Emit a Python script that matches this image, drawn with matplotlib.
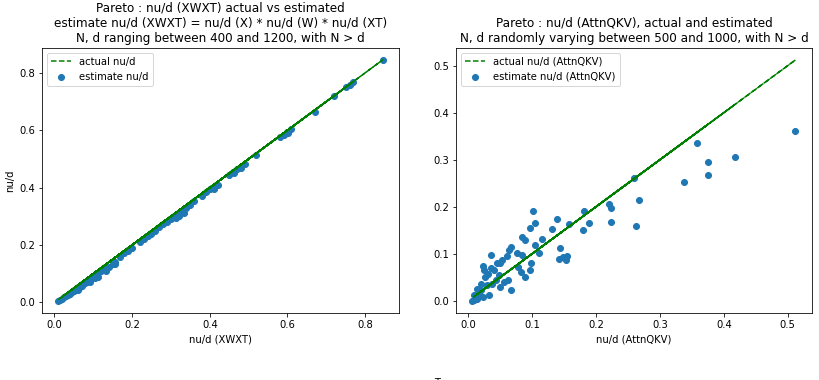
import matplotlib.pyplot as plt

# Left panel: actual vs estimated nu/d (XWXT)
xwxt_actual = [0.010, 0.420, 0.060, 0.770, 0.150, 0.300, 0.020, 0.590, 0.110, 0.250,
               0.845, 0.035, 0.470, 0.180, 0.080, 0.330, 0.670, 0.045, 0.390, 0.120,
               0.280, 0.015, 0.600, 0.095, 0.220, 0.750, 0.055, 0.360, 0.140, 0.490,
               0.025, 0.310, 0.070, 0.720, 0.190, 0.400, 0.040, 0.260, 0.105, 0.580,
               0.030, 0.450, 0.085, 0.340, 0.155, 0.610, 0.050, 0.270, 0.115, 0.520,
               0.065, 0.380, 0.200, 0.760, 0.090, 0.320, 0.130, 0.460, 0.075, 0.240,
               0.100, 0.410, 0.170, 0.290, 0.230, 0.350, 0.480,
               0.105, 0.112, 0.092, 0.062, 0.132, 0.157, 0.312, 0.322, 0.333, 0.412,
               0.462, 0.602]
xwxt_estim = [0.005, 0.410, 0.048, 0.768, 0.135, 0.290, 0.013, 0.585, 0.098, 0.240,
              0.845, 0.027, 0.465, 0.172, 0.068, 0.322, 0.665, 0.035, 0.385, 0.110,
              0.272, 0.010, 0.595, 0.083, 0.210, 0.750, 0.043, 0.352, 0.125, 0.482,
              0.018, 0.300, 0.058, 0.718, 0.180, 0.395, 0.030, 0.250, 0.095, 0.578,
              0.022, 0.445, 0.072, 0.330, 0.140, 0.605, 0.040, 0.262, 0.105, 0.515,
              0.055, 0.372, 0.190, 0.758, 0.080, 0.310, 0.118, 0.455, 0.063, 0.232,
              0.088, 0.400, 0.160, 0.280, 0.222, 0.340, 0.470,
              0.085, 0.090, 0.072, 0.045, 0.110, 0.135, 0.295, 0.300, 0.312, 0.395,
              0.452, 0.590]

# Right panel: actual vs estimated nu/d (AttnQKV)
qkv_actual = [0.102, 0.512, 0.009, 0.105, 0.358, 0.097, 0.139, 0.375, 0.181, 0.021,
              0.190, 0.417, 0.180, 0.158, 0.376, 0.221, 0.015, 0.223, 0.338, 0.224,
              0.263, 0.260, 0.267, 0.132, 0.116, 0.010, 0.105, 0.144, 0.085, 0.090,
              0.067, 0.064, 0.077, 0.084, 0.111, 0.142, 0.149, 0.153, 0.155, 0.098,
              0.097, 0.083, 0.090, 0.078, 0.054, 0.051, 0.061, 0.036, 0.023, 0.026,
              0.036, 0.041, 0.046, 0.031, 0.027, 0.062, 0.068, 0.051, 0.033, 0.015,
              0.023, 0.038, 0.044, 0.057, 0.021, 0.007, 0.012, 0.018, 0.030, 0.048]
qkv_estim = [0.192, 0.362, 0.002, 0.166, 0.335, 0.156, 0.174, 0.295, 0.191, 0.023,
             0.165, 0.305, 0.151, 0.163, 0.268, 0.207, 0.005, 0.197, 0.252, 0.168,
             0.159, 0.261, 0.215, 0.152, 0.131, 0.012, 0.120, 0.113, 0.136, 0.129,
             0.115, 0.108, 0.101, 0.097, 0.102, 0.090, 0.094, 0.087, 0.095, 0.080,
             0.065, 0.062, 0.051, 0.072, 0.088, 0.081, 0.095, 0.097, 0.074, 0.065,
             0.071, 0.067, 0.080, 0.058, 0.051, 0.044, 0.024, 0.030, 0.012, 0.026,
             0.009, 0.037, 0.044, 0.041, 0.037, 0.000, 0.008, 0.015, 0.035, 0.055]

fig = plt.figure(figsize=(819 / 72, 380 / 72), dpi=72)
ax1 = fig.add_axes([0.0513, 0.176, 0.4357, 0.698])
ax2 = fig.add_axes([0.557, 0.176, 0.434, 0.698])

ax1.plot(xwxt_actual, xwxt_actual, "g--", label="actual nu/d")
ax1.scatter(xwxt_actual, xwxt_estim, label="estimate nu/d")
ax1.set_title("Pareto : nu/d (XWXT) actual vs estimated\n"
              "estimate nu/d (XWXT) = nu/d (X) * nu/d (W) * nu/d (XT)\n"
              "N, d ranging between 400 and 1200, with N > d")
ax1.set_xlabel("nu/d (XWXT)")
ax1.set_ylabel("nu/d")
ax1.legend(loc="upper left")

ax2.plot(qkv_actual, qkv_actual, "g--", label="actual nu/d (AttnQKV)")
ax2.scatter(qkv_actual, qkv_estim, label="estimate nu/d (AttnQKV)")
ax2.set_title("Pareto : nu/d (AttnQKV), actual and estimated\n"
              "N, d randomly varying between 500 and 1000, with N > d")
ax2.set_xlabel("nu/d (AttnQKV)")
ax2.legend(loc="upper left")

# stray label clipped at the bottom edge, as in the reference
fig.text(0.534, 0.006, "T", ha="center", va="top")

fig.savefig("out.png", dpi=72)
